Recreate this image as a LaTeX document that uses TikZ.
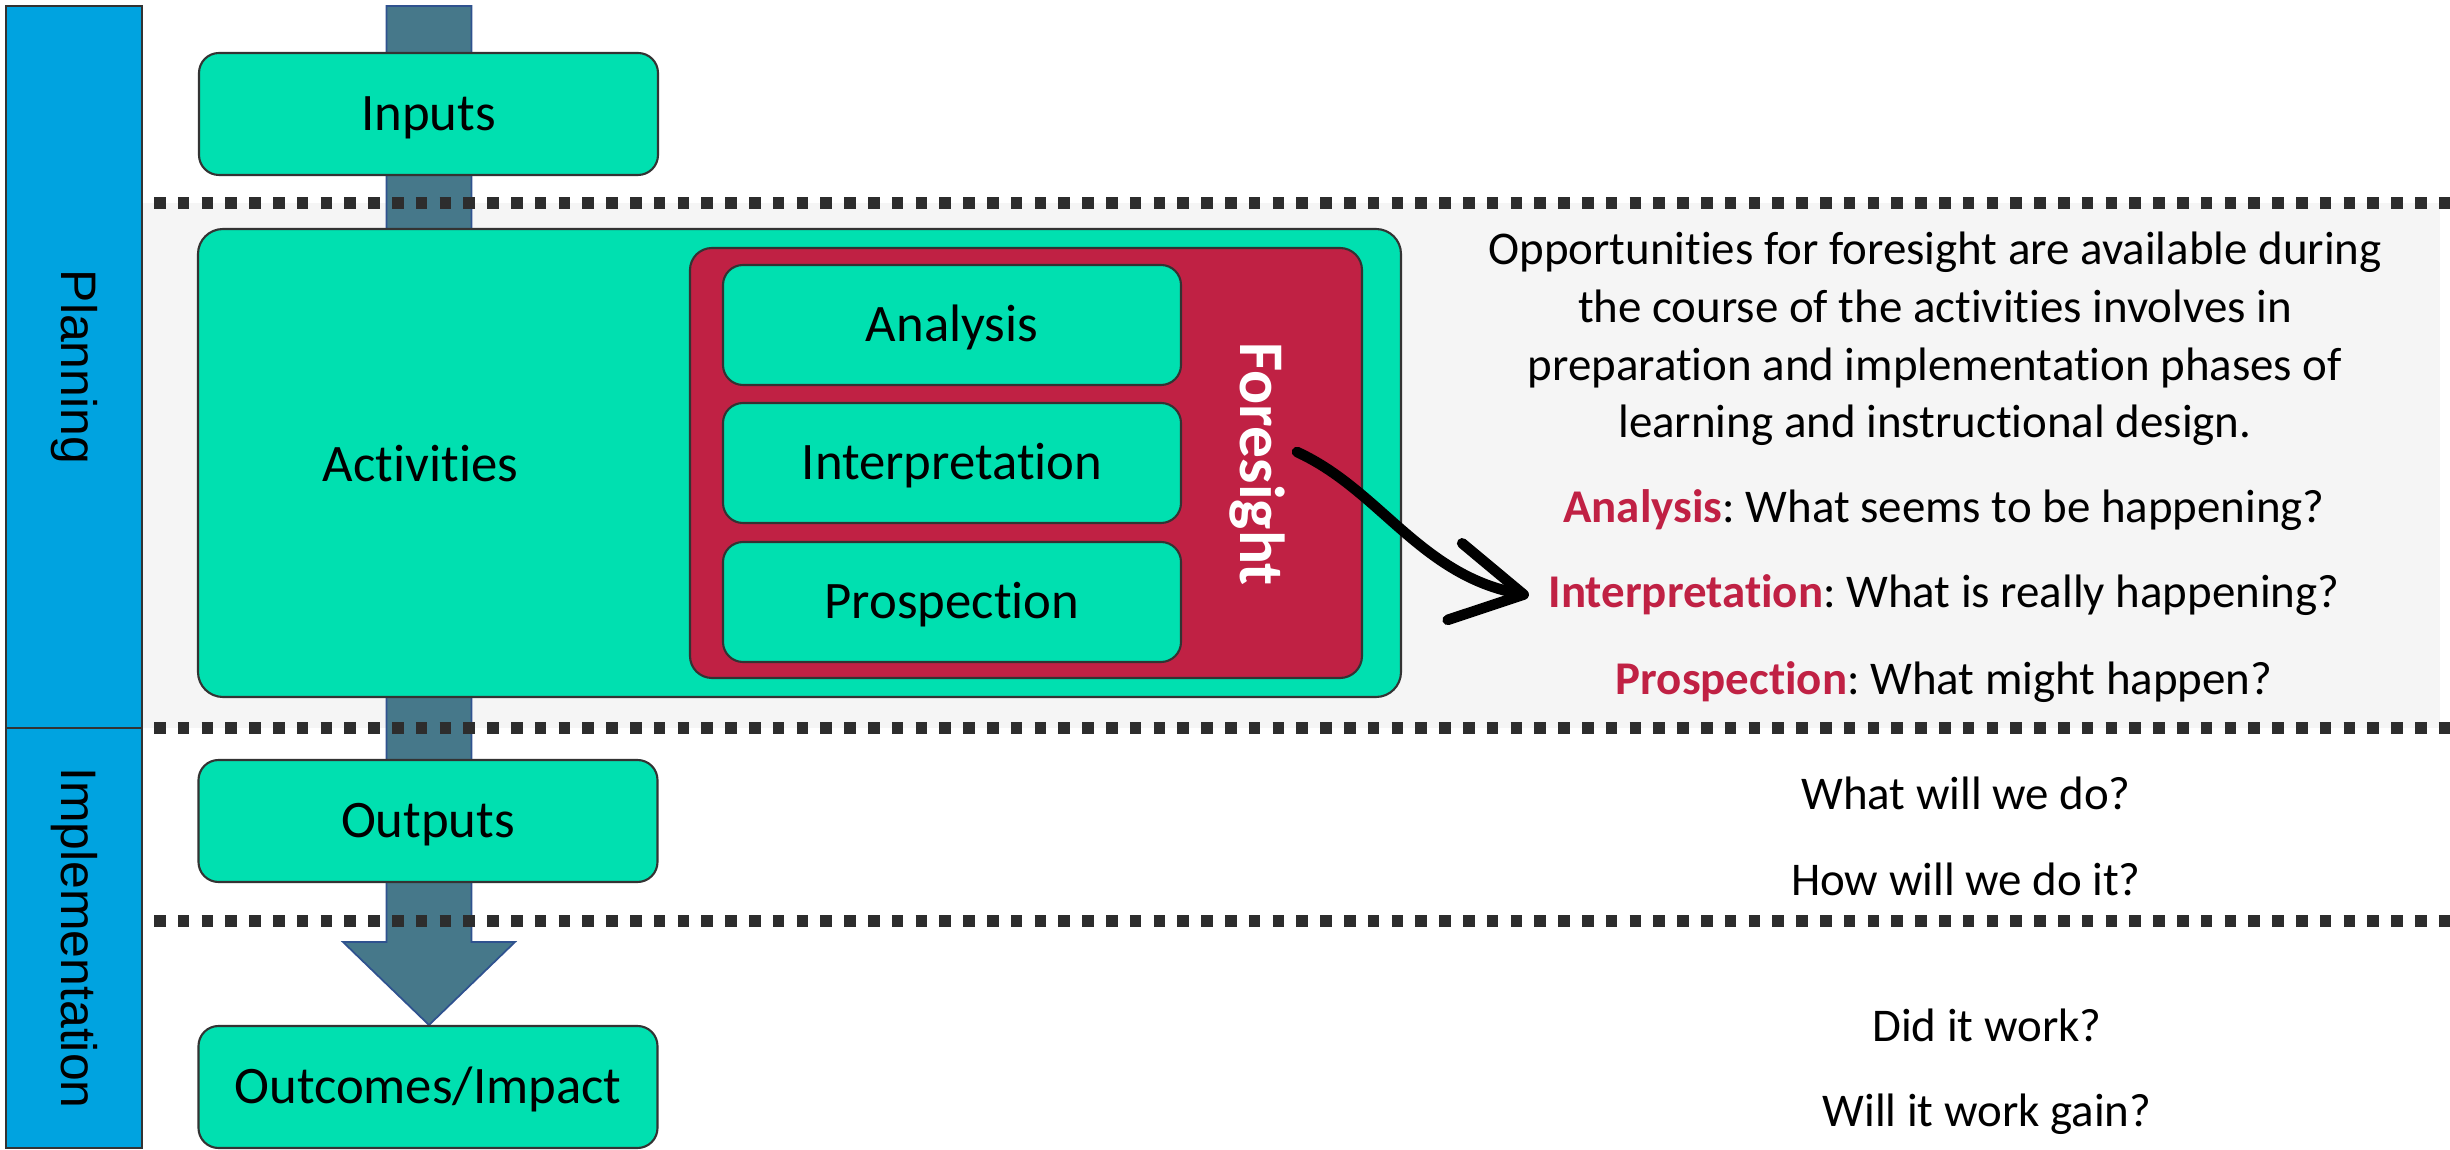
\documentclass[tikz,border=0pt]{standalone}
\usepackage{fontspec}
\setmainfont{Carlito}[Ligatures=NoCommon]
\newfontfamily\barfont{Liberation Sans}
\usetikzlibrary{arrows.meta}
\frenchspacing

\definecolor{boxgreen}{RGB}{0,224,176}
\definecolor{fsred}{RGB}{192,33,68}
\definecolor{barblue}{RGB}{0,163,224}
\definecolor{shaftblue}{RGB}{70,120,138}
\definecolor{shaftedge}{RGB}{47,82,143}
\definecolor{bandgray}{RGB}{245,245,245}
\definecolor{dotgray}{RGB}{45,45,45}
\definecolor{edgegray}{RGB}{51,51,51}

\tikzset{
	stagebox/.style={draw=edgegray, line width=0.6pt, fill=boxgreen, rounded corners=0.2cm,
		minimum width=4.59cm, minimum height=1.22cm, inner sep=0pt, text height=0.36cm, text depth=0.02cm,
		font=\fontsize{15}{18}\selectfont},
	phasebar/.style={draw=edgegray, line width=0.7pt, fill=barblue, rotate=-90, minimum height=1.36cm,
		inner sep=0pt, font=\barfont\fontsize{14.2}{17}\selectfont},
	sepline/.style={dotgray, line width=0.12cm, dash pattern=on 0.115cm off 0.123cm},
	question/.style={font=\fontsize{13.35}{16.4}\selectfont, inner sep=0pt, anchor=base},
}
\newcommand{\kw}[1]{\textcolor{fsred}{\textbf{#1}}}

\begin{document}
\begin{tikzpicture}[scale=1]
	\useasboundingbox (0, 0) rectangle (24.5, -11.5);
	% planning band
	\fill[bandgray] (1.42, -2.03) rectangle (24.40, -7.28);
	% big down arrow behind the stages
	\draw[fill=shaftblue, draw=shaftedge, line width=0.5pt] (3.865, -0.06)--(3.865, -9.42)--(3.43, -9.42)
		--(4.29, -10.25)--(5.15, -9.42)--(4.715, -9.42)--(4.715, -0.06)--cycle;
	\draw[sepline] (1.54, -2.03)--(24.5, -2.03);
	\draw[sepline] (1.54, -7.28)--(24.5, -7.28);
	\draw[sepline] (1.54, -9.21)--(24.5, -9.21);

	\node[phasebar, minimum width=7.22cm] (planning) at (0.74, -3.67) {Planning};
	\node[phasebar, minimum width=4.20cm] (implementation) at (0.74, -9.38) {Implementation};

	\node[stagebox] (inputs) at (4.285, -1.14) {Inputs};
	\node[stagebox, minimum width=12.03cm, minimum height=4.68cm, rounded corners=0.25cm] (activities) at (7.995, -4.63) {};
	\node[font=\fontsize{15}{18}\selectfont, inner sep=0pt, anchor=base] (acttext) at (4.205, -4.82) {Activities};
	\node[stagebox] (outputs) at (4.28, -8.21) {Outputs};
	\node[stagebox] (outcomes) at (4.28, -10.87) {Outcomes/Impact};

	\node[draw=edgegray, line width=0.6pt, fill=fsred, rounded corners=0.22cm, minimum width=6.72cm, minimum height=4.30cm] (foresight) at (10.26, -4.63) {};
	\node[stagebox, minimum width=4.58cm, minimum height=1.20cm] (analysis) at (9.52, -3.25) {Analysis};
	\node[stagebox, minimum width=4.58cm, minimum height=1.20cm] (interp) at (9.52, -4.63) {Interpretation};
	\node[stagebox, minimum width=4.58cm, minimum height=1.20cm] (prosp) at (9.52, -6.02) {Prospection};
	\node[rotate=-90, text=white, font=\bfseries\fontsize{18.1}{20}\selectfont] (fslabel) at (12.57, -4.64) {Foresight};

	\node[align=center, font=\fontsize{13.35}{16.4}\selectfont, inner sep=0pt] (note) at (19.35, -3.39)
		{Opportunities for foresight are available during\\ the course of the activities involves in\\
		 preparation and implementation phases of\\ learning and instructional design.};
	\node[question] (qanalysis) at (19.44, -5.23) {\kw{Analysis}: What seems to be happening?};
	\node[question] (qinterp) at (19.44, -6.08) {\kw{Interpretation}: What is really happening?};
	\node[question] (qprosp) at (19.44, -6.95) {\kw{Prospection}: What might happen?};
	\node[question] (qdo) at (19.66, -8.10) {What will we do?};
	\node[question] (qhow) at (19.66, -8.96) {How will we do it?};
	\node[question] (qwork) at (19.87, -10.42) {Did it work?};
	\node[question] (qagain) at (19.87, -11.27) {Will it work gain?};

	% foresight feeds the three questions
	\coordinate (fsfrom) at (12.97, -4.52);
	\coordinate (fsto) at ([xshift=-0.19cm]qinterp.west);
	\draw[line width=3pt, line cap=round, -{Straight Barb[length=0.7cm, width=0.78cm, round]}]
		(fsfrom) .. controls (13.80, -4.90) and (14.20, -5.75) .. (fsto);
\end{tikzpicture}
\end{document}
